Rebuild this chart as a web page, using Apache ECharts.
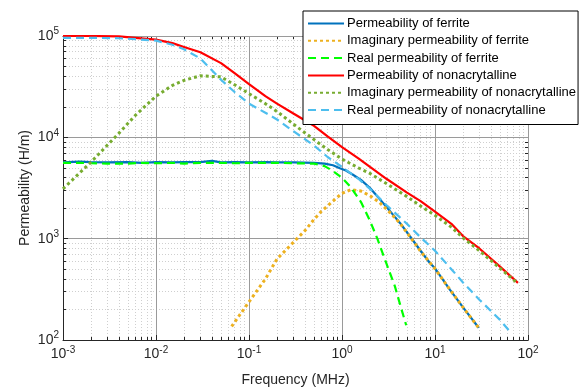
<!DOCTYPE html>
<html>
<head>
<meta charset="utf-8">
<script src="https://cdn.jsdelivr.net/npm/echarts@6/dist/echarts.min.js"></script>
<style>
html, body { margin: 0; padding: 0; background: #fff; }
#container { width: 580px; height: 389px; }
</style>
</head>
<body>
<div id="container"></div>
<script>
let chart = echarts.init(document.getElementById('container'));

// ferrite
var fFerrite = [0.001, 0.0015, 0.002, 0.003, 0.005, 0.007, 0.01, 0.015, 0.02, 0.03, 0.04, 0.05, 0.07, 0.1, 0.15, 0.2, 0.3, 0.5, 0.65, 0.8, 0.95, 1.1, 1.3, 1.6, 2, 2.5, 3.3, 4.2, 5.4, 7, 8.8, 10, 14.5, 21, 29.5];
var muFerrite = [5650, 5750, 5700, 5650, 5700, 5600, 5700, 5650, 5700, 5700, 5850, 5650, 5700, 5650, 5700, 5650, 5650, 5600, 5500, 5300, 4950, 4700, 4300, 3800, 3160, 2500, 1860, 1430, 1050, 760, 575, 510, 313, 198, 132];

var fFerriteIm = [0.065, 0.1, 0.15, 0.2, 0.3, 0.4, 0.5, 0.6, 0.8, 1, 1.25, 1.6, 2, 2.5, 3.3, 4.2, 5.4, 7, 10, 14.5, 21, 29.5];
var muFerriteIm = [136, 238, 400, 630, 920, 1200, 1550, 1860, 2350, 2800, 3050, 2950, 2650, 2300, 1800, 1420, 1040, 750, 505, 313, 198, 132];

var fFerriteRe = [0.001, 0.0015, 0.002, 0.003, 0.005, 0.007, 0.01, 0.015, 0.02, 0.03, 0.05, 0.07, 0.1, 0.15, 0.2, 0.3, 0.5, 0.65, 0.8, 1, 1.25, 1.6, 2, 2.4, 3, 3.7, 4.3, 4.9];
var muFerriteRe = [5600, 5600, 5550, 5500, 5500, 5600, 5550, 5600, 5500, 5600, 5600, 5550, 5600, 5600, 5600, 5550, 5500, 5200, 4650, 4000, 3200, 2300, 1500, 1000, 570, 340, 210, 140];

// nonacrytalline
var fNano = [0.001, 0.002, 0.004, 0.006, 0.01, 0.015, 0.02, 0.03, 0.05, 0.07, 0.1, 0.15, 0.2, 0.3, 0.5, 0.7, 1, 1.5, 2, 3, 5, 7, 10, 15, 20, 30, 50, 78];
var muNano = [100000, 100000, 99000, 96000, 92000, 85000, 78000, 69000, 54000, 43000, 33500, 25500, 21500, 17200, 13000, 10200, 8000, 6200, 5100, 3900, 2850, 2350, 1850, 1400, 1060, 800, 530, 366];
var muNanoIm = [3100, 5700, 11000, 16500, 25500, 32500, 36500, 40500, 39500, 33000, 27000, 21500, 18000, 13500, 9500, 7600, 6100, 5000, 4400, 3500, 2600, 2100, 1700, 1300, 1020, 760, 510, 360];

var fNanoRe = [0.001, 0.002, 0.004, 0.006, 0.01, 0.015, 0.02, 0.03, 0.05, 0.07, 0.1, 0.15, 0.2, 0.3, 0.5, 0.7, 1, 1.5, 2, 3, 5, 7, 10, 15, 20, 30, 50, 62];
var muNanoRe = [96000, 96000, 95000, 93000, 90000, 82000, 74000, 60000, 37000, 28000, 21500, 17500, 15000, 11500, 8300, 6400, 5100, 3900, 3100, 2150, 1400, 1030, 760, 500, 370, 250, 158, 125];

var seriesNames = [
    'Permeability of ferrite',
    'Imaginary permeability of ferrite',
    'Real permeability of ferrite',
    'Permeability of nonacrytalline',
    'Imaginary permeability of nonacrytalline',
    'Real permeability of nonacrytalline'
];

var font = "'Liberation Sans', Arial, sans-serif";
var txt = '#262626';

function pairs(f, v) {
    return f.map((x, i) => [x, v[i]]);
}

function minorValues(lo, hi) {
    var out = [];
    for (var k = lo; k < hi; k++) {
        for (var m = 2; m <= 9; m++) {
            out.push(+(m * Math.pow(10, k)).toPrecision(3));
        }
    }
    return out;
}
var xMinor = minorValues(-3, 2);
var yMinor = minorValues(2, 5);

var labelRich = {
    b: { fontSize: 14, color: txt, fontFamily: font },
    e: { fontSize: 10, color: txt, fontFamily: font, padding: [0, 0, 9, 0] }
};
function powLabel(v) {
    return '{b|10}{e|' + Math.round(Math.log10(v)) + '}';
}

function makeAxes(dim) {
    var isX = dim == 'x';
    var lim = isX ? [0.001, 100] : [100, 100000];
    var minor = isX ? xMinor : yMinor;
    var pos = isX ? ['bottom', 'top'] : ['left', 'right'];
    var base = {
        type: 'log',
        logBase: 10,
        min: lim[0],
        max: lim[1],
        splitNumber: isX ? 5 : 3,
    };
    var main = Object.assign({}, base, {
        position: pos[0],
        name: isX ? 'Frequency (MHz)' : 'Permeability (H/m)',
        nameLocation: 'middle',
        nameGap: isX ? 33 : 31,
        nameMoveOverlap: false,
        nameTextStyle: { fontSize: 14, color: txt, fontFamily: font },
        axisLine: { show: true, lineStyle: { color: txt, width: 1 } },
        axisTick: { show: true, inside: true, length: 5, lineStyle: { color: txt } },
        axisLabel: { formatter: powLabel, rich: labelRich, margin: isX ? 5 : 4 },
        splitLine: { show: true, lineStyle: { color: '#9a9a9a', width: 1 } },
        z: 1
    });
    var box = Object.assign({}, base, {
        position: pos[1],
        axisLine: { show: true, lineStyle: { color: txt, width: 1 } },
        axisTick: { show: true, inside: true, length: 5, lineStyle: { color: txt } },
        axisLabel: { show: false },
        splitLine: { show: false }
    });
    var minorA = Object.assign({}, base, {
        position: pos[0],
        axisLine: { show: false },
        axisTick: { show: true, inside: true, length: 3, customValues: minor, lineStyle: { color: txt } },
        axisLabel: { show: false },
        splitLine: { show: true, lineStyle: { color: '#cfcfcf', width: 1, type: [1, 2] } }
    });
    var minorB = Object.assign({}, base, {
        position: pos[1],
        axisLine: { show: false },
        axisTick: { show: true, inside: true, length: 3, customValues: minor, lineStyle: { color: txt } },
        axisLabel: { show: false },
        splitLine: { show: false }
    });
    return [minorA, minorB, main, box];
}

var styles = [
    { color: '#0072BD', width: 2.2, type: 'solid' },
    { color: '#EDB120', width: 3, type: [3, 3] },
    { color: '#00FF00', width: 2.2, type: [8, 5] },
    { color: '#FF0000', width: 2.2, type: 'solid' },
    { color: '#77AC30', width: 3, type: [3, 3] },
    { color: '#4DBEEE', width: 2.2, type: [8, 5] }
];
var datas = [
    pairs(fFerrite, muFerrite),
    pairs(fFerriteIm, muFerriteIm),
    pairs(fFerriteRe, muFerriteRe),
    pairs(fNano, muNano),
    pairs(fNano, muNanoIm),
    pairs(fNanoRe, muNanoRe)
];

var series = seriesNames.map((name, i) => ({
    type: 'line',
    name: name,
    xAxisIndex: 2,
    yAxisIndex: 2,
    data: datas[i],
    symbol: 'none',
    smooth: false,
    lineStyle: { color: styles[i].color, width: styles[i].width, type: styles[i].type, cap: 'butt' },
    itemStyle: { color: styles[i].color },
    z: 3
}));

var option = {
    animation: false,
    backgroundColor: '#fff',
    textStyle: { fontFamily: font },
    grid: { left: 63, right: 52, top: 36, bottom: 49, containLabel: false, outerBoundsMode: 'none' },
    legend: {
        data: seriesNames,
        orient: 'vertical',
        left: 303,
        top: 11,
        padding: [6, 2, 8, 4],
        itemWidth: 36,
        itemHeight: 14,
        itemGap: 4.3,
        backgroundColor: '#fff',
        borderColor: '#000',
        borderWidth: 1,
        borderRadius: 0,
        itemStyle: { opacity: 0 },
        textStyle: { fontSize: 13, color: '#000', fontFamily: font, padding: [0, 0, 0, -2] },
        z: 10
    },
    xAxis: makeAxes('x'),
    yAxis: makeAxes('y'),
    series: series
};

chart.setOption(option);
</script>
</body>
</html>
